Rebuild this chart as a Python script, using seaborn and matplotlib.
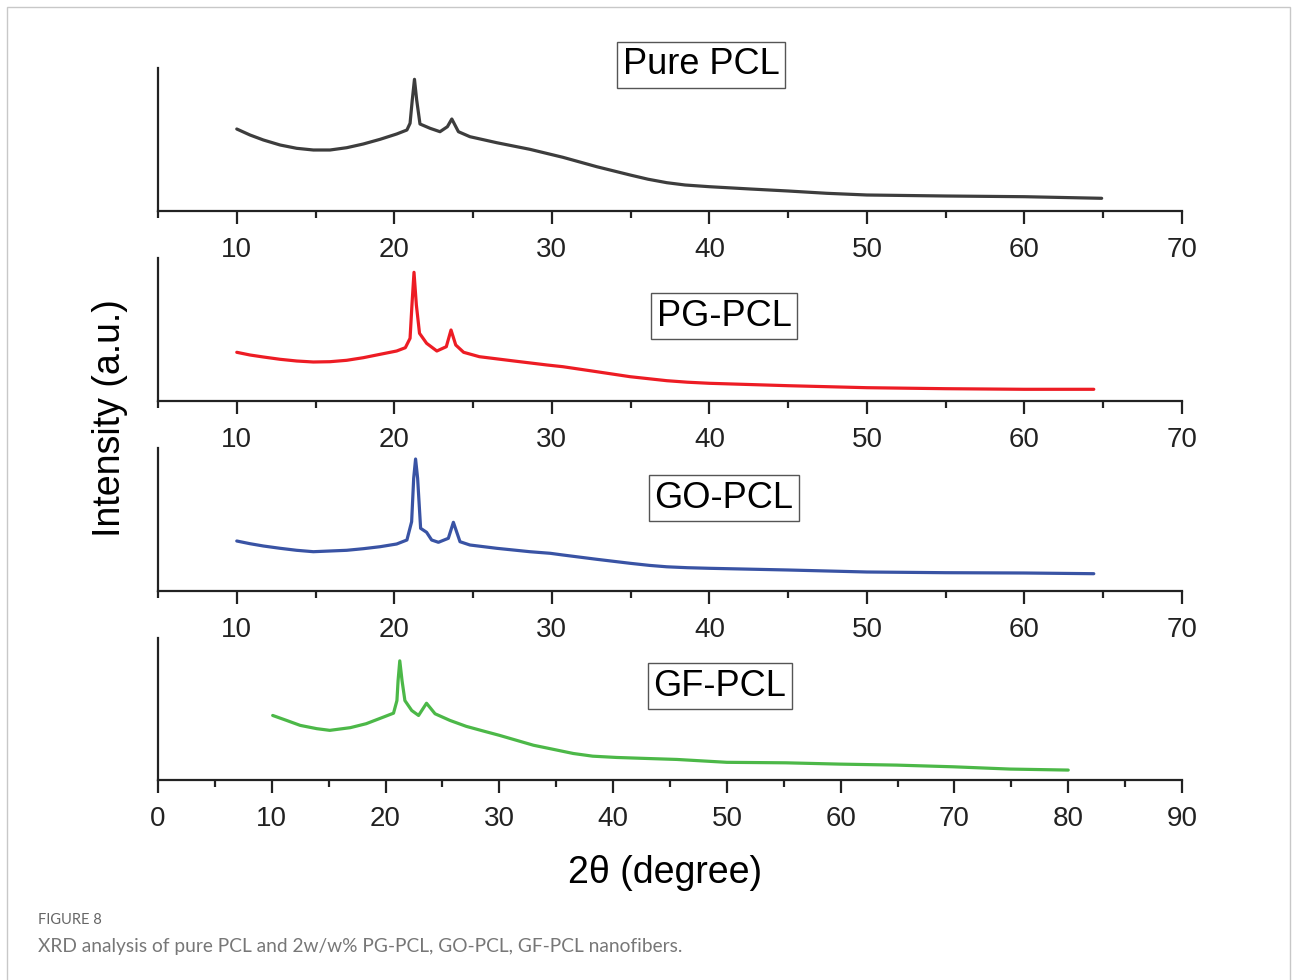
import numpy as np
import pandas as pd
import matplotlib
matplotlib.use("Agg")
import matplotlib.pyplot as plt
from matplotlib.patches import Rectangle
from matplotlib.ticker import MultipleLocator
import seaborn as sns

# --- data (2theta in degree, intensity in a.u.) ---
pure_x = [10.0, 10.84, 11.69, 12.75, 13.8, 14.86, 15.92, 16.98, 18.03, 19.1, 20.15,
          20.8, 21.0, 21.14, 21.28, 21.42, 21.63, 22.27, 22.9, 23.37, 23.65, 24.07,
          24.8, 26.5, 28.6, 30.7, 32.85, 34.97, 36.1, 37.3, 38.46, 40.0, 42.6, 45.0,
          47.45, 50.0, 55.0, 60.0, 64.9]
pure_y = [82, 76, 71, 66, 62.7, 61, 61, 63.3, 67, 71.7, 77,
          81, 87.7, 111, 131.7, 111, 87, 82.7, 79.3, 84.3, 92, 79.3,
          74.3, 68.3, 61.7, 53.7, 44.3, 36, 31.8, 28.3, 26, 24.3, 22, 20,
          17.7, 16, 15, 14.3, 12.7]

pg_x = [10.0, 10.84, 11.69, 12.75, 13.8, 14.86, 15.92, 16.98, 18.03, 19.1, 20.15,
        20.7, 21.0, 21.12, 21.25, 21.4, 21.6, 22.05, 22.7, 23.3, 23.6, 23.9,
        24.4, 25.4, 27.6, 29.7, 30.7, 32.85, 34.97, 37.3, 38.6, 40.0, 45.0, 50.0,
        55.0, 60.0, 64.4]
pg_y = [48.7, 46, 44, 41.7, 40, 39, 39.3, 40.7, 43.3, 46.7, 50,
        53.3, 62.7, 96, 128.7, 96, 67.7, 57.7, 50, 54.3, 71, 56,
        48.7, 44.3, 40, 36, 34.3, 29.3, 24.3, 20.3, 18.8, 17.7, 15.3, 13.3,
        12.3, 11.7, 11.7]

go_x = [10.0, 10.84, 11.69, 12.75, 13.8, 14.86, 15.92, 16.98, 18.03, 19.1, 20.15,
        20.8, 21.1, 21.23, 21.35, 21.48, 21.67, 22.05, 22.37, 22.8, 23.43, 23.75,
        24.17, 24.8, 26.5, 28.6, 29.9, 30.7, 32.85, 34.97, 36.2, 37.3, 38.6, 40.0,
        45.0, 50.0, 55.0, 60.0, 64.4]
go_y = [50, 47.3, 45, 42.7, 40.7, 39.3, 40, 40.7, 42.3, 44.3, 47,
        51, 69.3, 112.7, 132, 112.7, 62.7, 58.7, 51, 48.7, 52.7, 68.7,
        49.3, 46, 42.7, 39.3, 37.7, 36, 31.7, 27.7, 25.6, 24.2, 23.3, 22.7,
        21, 19, 18.3, 18, 17.3]

gf_x = [10.08, 11.3, 12.5, 13.95, 15.1, 16.9, 18.3, 19.8, 20.7, 21.0, 21.1,
        21.25, 21.45, 21.7, 22.3, 22.9, 23.6, 24.35, 25.66, 27.1, 28.6, 30.0,
        31.5, 33.0, 34.4, 36.5, 38.2, 40.3, 42.9, 45.6, 50.0, 55.2, 59.9,
        64.9, 69.9, 74.9, 80.0]
gf_y = [65, 60, 55, 51.7, 50, 52.7, 56.7, 63.3, 67.3, 80, 100,
        120, 100, 80, 70, 65, 77.3, 66.7, 60, 54, 49.3, 45,
        40, 35, 31.7, 26.7, 24, 22.7, 21.7, 20.7, 17.8, 17.3, 16,
        15, 13.3, 11, 10]

names = ["Pure PCL", "PG-PCL", "GO-PCL", "GF-PCL"]
colors = ["#3d3d3d", "#ed1c24", "#3953a4", "#4cb848"]
series = [(pure_x, pure_y), (pg_x, pg_y), (go_x, go_y), (gf_x, gf_y)]

sns.set_theme(style="ticks")
plt.rcParams["font.family"] = ["Liberation Sans", "DejaVu Sans"]

W, H = 1292, 980
fig = plt.figure(figsize=(W / 100, H / 100), dpi=100)

# panel geometry in pixels: (bottom axis line, top of y spine)
panels = [(211, 68), (401, 258), (591, 448), (780, 638)]
left_px, right_px = 158, 1182
# label box centres in pixels
label_pos = [(701, 65), (724, 316), (724, 498), (720, 686)]

for i, ((xs, ys), name, col) in enumerate(zip(series, names, colors)):
    bot, top = panels[i]
    ax = fig.add_axes([left_px / W, 1 - bot / H, (right_px - left_px) / W, (bot - top) / H])
    df = pd.DataFrame({"x": xs, "y": ys})
    sns.lineplot(data=df, x="x", y="y", ax=ax, color=col, lw=2.3,
                 sort=False, estimator=None)
    if i < 3:
        ax.set_xlim(5, 70)
        ax.set_xticks(np.arange(10, 71, 10))
    else:
        ax.set_xlim(0, 90)
        ax.set_xticks(np.arange(0, 91, 10))
    ax.xaxis.set_minor_locator(MultipleLocator(5))
    ax.set_ylim(0, 143)
    ax.set_yticks([])
    ax.set_xlabel("")
    ax.set_ylabel("")
    for s in ["top", "right"]:
        ax.spines[s].set_visible(False)
    for s in ["left", "bottom"]:
        ax.spines[s].set_linewidth(1.6)
        ax.spines[s].set_color("#222222")
    ax.tick_params(axis="x", which="major", direction="out", length=9.5, width=1.6,
                   labelsize=20, pad=9.5, colors="#222222", labelcolor="#222222")
    ax.tick_params(axis="x", which="minor", direction="out", length=5, width=1.6,
                   colors="#222222")
    ax.patch.set_alpha(0)

    cx, cy = label_pos[i]
    fig.text(cx / W, 1 - cy / H, name, ha="center", va="center", fontsize=26,
             color="black",
             bbox=dict(boxstyle="square,pad=0.16", fc="white", ec="#555555", lw=1))

fig.text(110 / W, 1 - 418 / H, "Intensity (a.u.)", rotation=90, ha="center",
         va="center", fontsize=27, color="black")
fig.text(665 / W, 1 - 873 / H, "2θ (degree)", ha="center", va="center",
         fontsize=27, color="black")

fig.text(38 / W, 1 - 920 / H, "FIGURE 8", ha="left", va="center", fontsize=10.5,
         color="#666666", family=["Lato", "DejaVu Sans"])
fig.text(38 / W, 1 - 946 / H,
         "XRD analysis of pure PCL and 2w/w% PG-PCL, GO-PCL, GF-PCL nanofibers.",
         ha="left", va="center", fontsize=13.8, color="#777777",
         family=["Lato", "DejaVu Sans"])

fig.patches.append(Rectangle((7 / W, -0.02), (1290 - 7) / W, 1 - 7 / H + 0.02,
                             transform=fig.transFigure, fill=False,
                             edgecolor="#c8c8c8", lw=1))

fig.savefig("out.png", dpi=100)
